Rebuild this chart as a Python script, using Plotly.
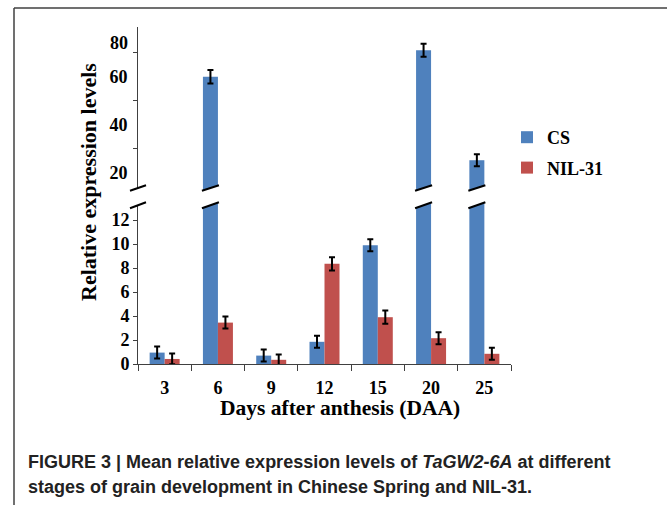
import plotly.graph_objects as go

# ---------------- data ----------------
days = ["3", "6", "9", "12", "15", "20", "25"]
cs_values = [0.95, 60.0, 0.7, 1.85, 9.9, 71.0, 25.2]
cs_errors = [0.5, 2.8, 0.5, 0.5, 0.5, 2.7, 2.5]
nil_values = [0.42, 3.45, 0.35, 8.35, 3.9, 2.15, 0.85]
nil_errors = [0.45, 0.5, 0.45, 0.55, 0.55, 0.5, 0.5]
lower_ticks = [0, 2, 4, 6, 8, 10, 12]
upper_ticks = [20, 40, 60]
upper_minor = [30, 50, 70]
top_label = 80

# ---------------- layout geometry (pixels) ----------------
FW, FH = 667, 505
L, R = 138, 511          # plot left/right
T, B = 27, 364           # plot top / baseline (value 0)
PW, PH = R - L, B - T
LOW_TOP_PX = 201         # top of lower panel
UP_BOT_PX = 192          # bottom of upper panel
LOW_PPU = 12.0           # pixels per unit, lower panel
UP_PPU = 2.4             # pixels per unit, upper panel
UP_REF_PX, UP_REF_VAL = 172.7, 20

def px2py(py):
    return (B - py) / PH

def px2px(px):
    return (px - L) / PW

low_range = [0, (B - LOW_TOP_PX) / LOW_PPU]
up_range = [UP_REF_VAL - (UP_BOT_PX - UP_REF_PX) / UP_PPU,
            UP_REF_VAL + (UP_REF_PX - T) / UP_PPU]

BLUE = "#4F81BD"
RED = "#C0504D"
SERIF = "Liberation Serif"
BARGAP = 0.437

fig = go.Figure()
for ya, show in (("y", True), ("y2", False)):
    fig.add_trace(go.Bar(
        x=days, y=cs_values, name="CS", marker=dict(color=BLUE, line=dict(width=0)),
        error_y=dict(type="data", array=cs_errors, color="black", thickness=2, width=3),
        yaxis=ya, showlegend=show, legendgroup="cs"))
    fig.add_trace(go.Bar(
        x=days, y=nil_values, name="NIL-31", marker=dict(color=RED, line=dict(width=0)),
        error_y=dict(type="data", array=nil_errors, color="black", thickness=2, width=3),
        yaxis=ya, showlegend=show, legendgroup="nil"))

axis_font = dict(family=SERIF, size=18, color="black", weight="bold")
fig.update_layout(
    width=FW, height=FH,
    margin=dict(l=L, r=FW - R, t=T, b=FH - B),
    paper_bgcolor="white", plot_bgcolor="white",
    barmode="group", bargap=BARGAP, bargroupgap=0,
    xaxis=dict(type="category", showline=True, linecolor="#404040", linewidth=1,
               ticks="outside", tickson="boundaries", ticklen=6, tickcolor="#404040",
               tickfont=axis_font,
               ticklabelstandoff=7, showgrid=False, zeroline=False),
    yaxis=dict(domain=[0, px2py(LOW_TOP_PX)], range=low_range,
               tickvals=lower_ticks, ticks="outside", ticklen=4, tickcolor="#404040",
               showline=True, linecolor="#404040", linewidth=1,
               tickfont=axis_font, showgrid=False, zeroline=False),
    yaxis2=dict(domain=[px2py(UP_BOT_PX), 1], range=up_range,
                tickvals=upper_ticks, ticks="", showline=True, linecolor="#404040",
                linewidth=1, tickfont=axis_font, showgrid=False, zeroline=False,
                ticklabelstandoff=6,
                minor=dict(tickvals=upper_minor, ticks="outside", ticklen=4,
                           tickcolor="#404040")),
    legend=dict(x=px2px(507), y=px2py(119), xanchor="left", yanchor="top",
                font=dict(family=SERIF, size=18, color="black", weight="bold"),
                itemwidth=30, tracegroupgap=4, bgcolor="rgba(0,0,0,0)"),
    showlegend=True,
)

cap_font = dict(family="Liberation Sans", size=18, color="#222222")
annotations = [
    dict(text="<b>%d</b>" % top_label, x=0, xref="paper", xanchor="right", xshift=-8,
         y=top_label, yref="y2", yanchor="middle", yshift=-14, showarrow=False,
         font=axis_font),
    dict(text="<b>Relative expression levels</b>", textangle=-90,
         x=px2px(88), xref="paper", y=px2py(182), yref="paper",
         xanchor="center", yanchor="middle", showarrow=False,
         font=dict(family=SERIF, size=22, color="black")),
    dict(text="<b>Days after anthesis (DAA)</b>",
         x=px2px(340), xref="paper", y=px2py(408), yref="paper",
         xanchor="center", yanchor="middle", showarrow=False,
         font=dict(family=SERIF, size=21.5, color="black")),
    dict(text="<b>FIGURE 3 | Mean relative expression levels of <i>TaGW2-6A</i> at different</b>",
         x=px2px(26), xref="paper", y=px2py(462), yref="paper",
         xanchor="left", yanchor="middle", showarrow=False, font=cap_font),
    dict(text="<b>stages of grain development in Chinese Spring and NIL-31.</b>",
         x=px2px(26), xref="paper", y=px2py(487), yref="paper",
         xanchor="left", yanchor="middle", showarrow=False, font=cap_font),
]
fig.update_layout(annotations=annotations)

# ---------------- decorative shapes ----------------
shapes = []
# figure frame (top and left)
shapes.append(dict(type="line", xref="paper", yref="paper",
                   x0=px2px(14), x1=px2px(FW + 5), y0=px2py(8), y1=px2py(8),
                   line=dict(color="#404040", width=1.5)))
shapes.append(dict(type="line", xref="paper", yref="paper",
                   x0=px2px(14), x1=px2px(14), y0=px2py(8), y1=px2py(FH + 5),
                   line=dict(color="#404040", width=1.5)))

# axis-break slashes
cat_w = PW / len(days)
bar_w = cat_w * (1 - BARGAP) / 2
LOW_L, LOW_R = 208.3, 202.3
UP_L, UP_R = 190.7, 185.3

def add_break(cx, half):
    xl, xr = px2px(cx - half), px2px(cx + half)
    path = "M%f,%f L%f,%f L%f,%f L%f,%f Z" % (
        xl, px2py(LOW_L), xr, px2py(LOW_R), xr, px2py(UP_R), xl, px2py(UP_L))
    shapes.append(dict(type="path", xref="paper", yref="paper", path=path,
                       fillcolor="white", line=dict(width=0), layer="above"))
    for yl, yr in ((LOW_L, LOW_R), (UP_L, UP_R)):
        shapes.append(dict(type="line", xref="paper", yref="paper",
                           x0=xl, x1=xr, y0=px2py(yl), y1=px2py(yr),
                           line=dict(color="black", width=2), layer="above"))

add_break(L, 8)
for i, v in enumerate(cs_values):
    if v > low_range[1]:
        cx = L + (i + 0.5) * cat_w - bar_w / 2
        add_break(cx, bar_w / 2 + 1)

fig.update_layout(shapes=shapes)
fig.write_html("out.html")
